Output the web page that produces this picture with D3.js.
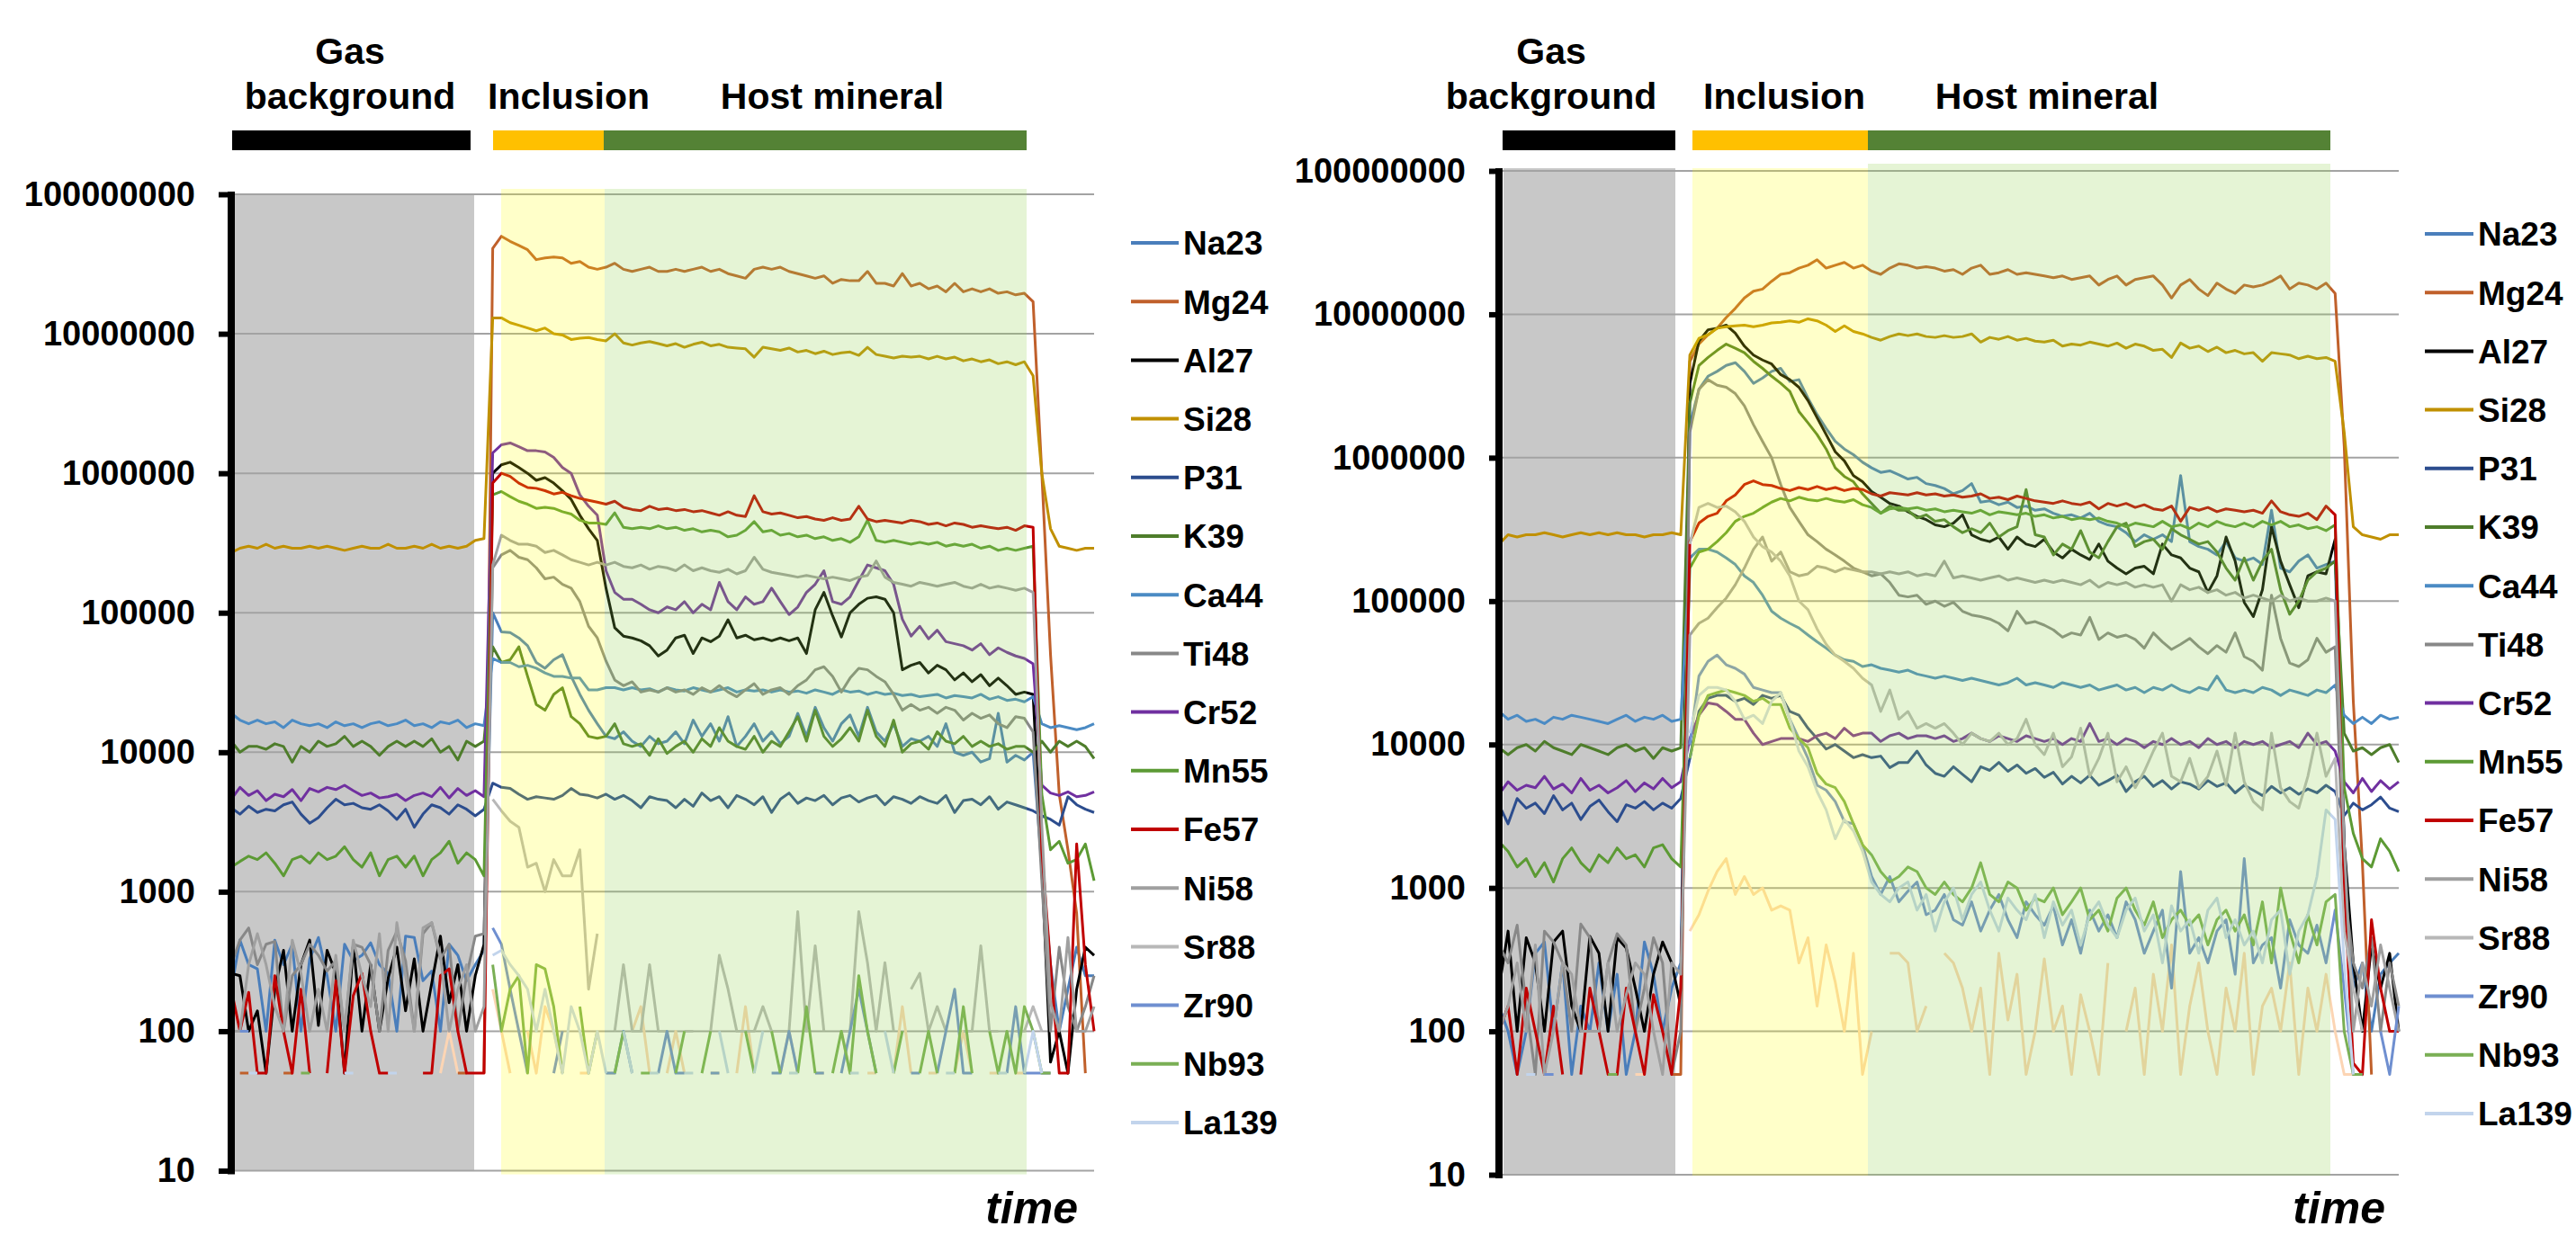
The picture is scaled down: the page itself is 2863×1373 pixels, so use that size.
<!DOCTYPE html>
<html>
<head>
<meta charset="utf-8">
<script src="https://cdn.jsdelivr.net/npm/d3@7"></script>
<style>
  body { margin: 0; background: #fff; }
  text { font-family: "Liberation Sans", Arial, sans-serif; font-weight: bold; }
</style>
</head>
<body>
<script>
// LA-ICP-MS time-resolved signals (cps), 100 sweeps per panel.
// null = no signal (zero counts, not drawn on the log axis)

const elements = ["Na23", "Mg24", "Al27", "Si28", "P31", "K39", "Ca44", "Ti48",
                  "Cr52", "Mn55", "Fe57", "Ni58", "Sr88", "Zr90", "Nb93", "La139"];

// ---------- left panel ----------
const lNa23 = [
200,450,300,280,100,450,300,420,100,330,
470,250,100,420,320,350,430,300,260,100,
480,470,230,270,100,420,350,230,300,380,
1e5,7.3e4,7.2e4,6.6e4,5.8e4,4.4e4,4e4,4.6e4,5e4,3.5e4,
2.6e4,2e4,1.6e4,1.3e4,1.25e4,1.4e4,1.2e4,1.1e4,1.3e4,1.15e4,
1.2e4,1.4e4,1.15e4,1.7e4,1.3e4,1.6e4,1.2e4,1.8e4,1.1e4,1.3e4,
1.6e4,1.2e4,1.4e4,1.15e4,1.3e4,1.9e4,1.3e4,2.1e4,1.5e4,1.2e4,
1.6e4,1.85e4,1.3e4,2.1e4,1.4e4,1.2e4,1.6e4,1.1e4,1.25e4,1.2e4,
1.3e4,1.1e4,1.6e4,1e4,9.5e3,1e4,8.5e3,9e3,1.9e4,8.5e3,
9.5e3,8.8e3,1e4,1.5e3,300,100,200,400,250,250];
const lMg24 = [
null,50,50,null,null,null,50,50,null,null,
null,null,null,null,null,null,null,null,null,null,
null,null,null,null,null,null,50,50,null,50,
4.1e7,5e7,4.6e7,4.3e7,4e7,3.4e7,3.5e7,3.55e7,3.5e7,3.2e7,
3.3e7,3e7,2.9e7,3e7,3.2e7,2.9e7,2.8e7,2.9e7,3e7,2.8e7,
2.8e7,2.9e7,2.8e7,2.9e7,3e7,2.8e7,2.9e7,2.7e7,2.6e7,2.5e7,
2.9e7,3e7,2.9e7,3e7,2.8e7,2.7e7,2.6e7,2.5e7,2.6e7,2.3e7,
2.45e7,2.4e7,2.4e7,2.8e7,2.3e7,2.3e7,2.2e7,2.7e7,2.2e7,2.3e7,
2.1e7,2.2e7,2e7,2.3e7,2e7,2.1e7,2e7,2.1e7,1.95e7,2e7,
1.9e7,1.95e7,1.7e7,1e6,5e4,5e3,2e3,700,50,null];
const lAl27 = [
260,250,100,140,50,200,380,100,300,450,
110,380,260,50,420,100,300,100,240,400,
140,330,100,220,480,160,300,100,250,420,
1e6,1.15e6,1.2e6,1.1e6,1e6,8.9e5,9.3e5,8.5e5,7.5e5,6.5e5,
5e5,4e5,3.3e5,1.5e5,7.8e4,6.8e4,6.6e4,6.3e4,5.8e4,4.9e4,
5.4e4,6.6e4,6.9e4,5.1e4,6.6e4,6.2e4,6.8e4,8.9e4,6.6e4,6.9e4,
6.4e4,6.6e4,6.3e4,6.6e4,6.3e4,6.6e4,5.1e4,1.05e5,1.4e5,9.5e4,
6.7e4,1e5,1.15e5,1.27e5,1.3e5,1.25e5,1e5,3.9e4,4.2e4,4.4e4,
3.7e4,4.2e4,3.9e4,3.3e4,3.7e4,3.2e4,3.6e4,3e4,3.4e4,3e4,
2.6e4,2.7e4,2.6e4,1.5e3,60,100,50,200,400,350];
const lSi28 = [
2.7e5,2.9e5,3e5,2.9e5,3.1e5,2.9e5,3e5,2.9e5,2.9e5,3e5,
2.9e5,3e5,2.9e5,2.8e5,2.9e5,3e5,2.9e5,2.9e5,3.1e5,2.9e5,
2.9e5,3e5,2.9e5,3.1e5,2.9e5,3e5,2.9e5,3e5,3.3e5,3.4e5,
1.3e7,1.3e7,1.2e7,1.15e7,1.1e7,1.05e7,1.1e7,1e7,9.8e6,9.1e6,
9.3e6,9.4e6,9.1e6,8.9e6,1e7,8.6e6,8.3e6,8.6e6,8.8e6,8.5e6,
8.2e6,8.5e6,8e6,8.4e6,8.7e6,8.2e6,8.4e6,8e6,7.9e6,7.8e6,
6.8e6,8e6,7.8e6,7.6e6,7.9e6,7.4e6,7.6e6,7.2e6,7.5e6,7.1e6,
7.3e6,7.4e6,7e6,8e6,7.1e6,6.9e6,6.7e6,6.9e6,6.8e6,6.9e6,
6.6e6,6.9e6,6.6e6,6.8e6,6.4e6,6.6e6,6.3e6,6.5e6,6.1e6,6.3e6,
6e6,6.3e6,5e6,1e6,4e5,3e5,2.9e5,2.8e5,2.9e5,2.9e5];
const lP31 = [
4e3,3.6e3,4.1e3,3.7e3,3.9e3,3.8e3,4.2e3,4.4e3,3.6e3,3.1e3,
3.4e3,4e3,4.6e3,4.2e3,4.3e3,4e3,3.9e3,4.2e3,3.8e3,3.3e3,
3.9e3,2.9e3,3.6e3,4.2e3,4e3,3.6e3,4.2e3,3.9e3,3.5e3,3.9e3,
6e3,5.6e3,5.5e3,5e3,4.6e3,4.8e3,4.7e3,4.6e3,4.9e3,5.5e3,
5e3,4.9e3,4.7e3,5e3,4.6e3,4.9e3,4.5e3,4e3,4.8e3,4.6e3,
4.5e3,4e3,4.6e3,4.1e3,5.1e3,4.5e3,4.8e3,4e3,4.9e3,4.6e3,
4.2e3,4.8e3,3.7e3,4.6e3,5.1e3,4.3e3,4.7e3,4.5e3,4.9e3,4.2e3,
4.7e3,4.9e3,4.4e3,4.7e3,4.9e3,4.2e3,4.8e3,4.6e3,4.3e3,4.8e3,
4.5e3,4.3e3,4.9e3,3.7e3,4.5e3,4.6e3,4.2e3,4.8e3,3.9e3,4.4e3,
4.2e3,4e3,3.8e3,3.5e3,3.3e3,3e3,4.8e3,4.2e3,3.9e3,3.7e3];
const lK39 = [
1.2e4,1e4,1.1e4,1.1e4,1.05e4,1.15e4,1.1e4,8.5e3,1.1e4,1e4,
1.2e4,1.1e4,1.15e4,1.3e4,1.1e4,1.2e4,1.1e4,9.5e3,1.1e4,1.2e4,
1.1e4,1.2e4,1.1e4,1.25e4,1e4,1.1e4,8.8e3,1.2e4,1.1e4,1.2e4,
5.7e4,4.4e4,4.6e4,5.7e4,3.5e4,2.2e4,2e4,2.6e4,2.9e4,1.8e4,
1.6e4,1.3e4,1.26e4,1.3e4,1.6e4,1.15e4,1.1e4,1.15e4,9.5e3,1.25e4,
9.8e3,1.1e4,1.2e4,1e4,1.25e4,1.1e4,1.5e4,1.2e4,1.1e4,1.05e4,
1.3e4,1e4,1.2e4,1.1e4,1.4e4,1.8e4,1.2e4,2e4,1.3e4,1.1e4,
1.25e4,1.5e4,1.2e4,2e4,1.3e4,1.1e4,1.7e4,1e4,1.15e4,1.2e4,
1.05e4,1.4e4,1.2e4,1.15e4,1.3e4,1.1e4,1.2e4,1.1e4,1.15e4,1.05e4,
1.1e4,1.1e4,1e4,1.2e4,1e4,1.2e4,1.1e4,1.2e4,1.1e4,9e3];
const lCa44 = [
1.9e4,1.7e4,1.6e4,1.7e4,1.6e4,1.65e4,1.5e4,1.7e4,1.6e4,1.55e4,
1.6e4,1.5e4,1.65e4,1.55e4,1.6e4,1.5e4,1.6e4,1.65e4,1.55e4,1.6e4,
1.7e4,1.55e4,1.6e4,1.5e4,1.65e4,1.6e4,1.7e4,1.5e4,1.6e4,1.55e4,
4.7e4,4.4e4,4.4e4,4.1e4,4.2e4,4e4,3.7e4,3.5e4,3.5e4,3.4e4,
3.4e4,2.8e4,2.8e4,2.9e4,2.9e4,2.8e4,2.9e4,2.8e4,2.85e4,2.7e4,
2.9e4,2.8e4,2.75e4,2.9e4,2.8e4,2.7e4,2.8e4,2.9e4,2.7e4,2.8e4,
2.75e4,2.8e4,2.7e4,2.8e4,2.7e4,2.75e4,2.65e4,2.8e4,2.7e4,2.6e4,
2.8e4,2.7e4,2.75e4,2.6e4,2.7e4,2.6e4,2.65e4,2.55e4,2.6e4,2.5e4,
2.55e4,2.6e4,2.45e4,2.55e4,2.5e4,2.45e4,2.6e4,2.4e4,2.5e4,2.35e4,
2.4e4,2.3e4,2.5e4,1.6e4,1.5e4,1.55e4,1.5e4,1.45e4,1.5e4,1.6e4];
const lTi48 = [
300,450,550,300,420,440,100,250,300,420,
350,270,320,100,420,400,300,100,380,520,
320,100,500,600,330,420,100,250,480,500,
2.1e5,2.6e5,2.8e5,2.5e5,2.4e5,2.1e5,1.75e5,1.8e5,1.6e5,1.5e5,
1.2e5,8e4,6.6e4,4.5e4,3.3e4,3e4,3.2e4,2.7e4,2.8e4,2.7e4,
2.9e4,2.7e4,2.8e4,2.6e4,2.9e4,2.7e4,3e4,2.7e4,2.5e4,2.8e4,
3.1e4,2.6e4,2.8e4,2.9e4,2.6e4,3e4,3.3e4,3.9e4,4.1e4,3.5e4,
2.7e4,3.4e4,4e4,3.9e4,3.5e4,3.2e4,2.6e4,2e4,2.2e4,2e4,
2.1e4,1.9e4,2.1e4,2e4,1.7e4,1.9e4,1.75e4,1.85e4,1.6e4,1.5e4,
1.8e4,1.75e4,1.4e4,1.2e3,100,400,150,100,150,250];
const lCr52 = [
4.6e3,5.6e3,4.9e3,5.3e3,4.5e3,5e3,4.8e3,5.4e3,4.5e3,5.5e3,
5.2e3,5.6e3,5.4e3,5.8e3,5.3e3,4.9e3,5.1e3,4.7e3,4.8e3,5e3,
4.5e3,4.9e3,5.1e3,4.8e3,5.6e3,4.7e3,5.5e3,4.9e3,5.3e3,4.8e3,
1.4e6,1.6e6,1.65e6,1.55e6,1.45e6,1.45e6,1.42e6,1.3e6,1.1e6,1e6,
7e5,5.8e5,5e5,2e5,1.4e5,1.25e5,1.25e5,1.15e5,1.05e5,1e5,
1.1e5,1.05e5,1.2e5,1e5,1.15e5,1.05e5,1.65e5,1.2e5,1.05e5,1.3e5,
1.15e5,1.2e5,1.5e5,1.2e5,9.7e4,1.1e5,1.4e5,1.6e5,2e5,1.2e5,
1.15e5,1.3e5,1.7e5,2.2e5,2.1e5,2e5,1.6e5,9e4,6.8e4,8e4,
6.5e4,7.5e4,6.2e4,6e4,5.8e4,5.4e4,6e4,5e4,5.6e4,5.2e4,
4.9e4,4.7e4,4.3e4,5.8e3,5.1e3,4.9e3,5.2e3,4.8e3,4.9e3,5.2e3];
const lMn55 = [
1.5e3,1.65e3,1.8e3,1.7e3,1.9e3,1.6e3,1.3e3,1.7e3,1.8e3,1.6e3,
1.9e3,1.7e3,1.8e3,2.1e3,1.7e3,1.5e3,1.9e3,1.3e3,1.7e3,1.8e3,
1.5e3,1.8e3,1.3e3,1.7e3,1.9e3,2.3e3,1.6e3,1.9e3,1.7e3,1.3e3,
7e5,7.4e5,6.8e5,6.3e5,6e5,5.6e5,5.7e5,5.6e5,5.3e5,5.1e5,
4.6e5,4.4e5,4.4e5,4.3e5,5.2e5,4.1e5,4e5,4.1e5,4e5,4.2e5,
4e5,4.1e5,3.9e5,4e5,3.8e5,3.9e5,3.8e5,3.5e5,3.6e5,3.9e5,
4.5e5,3.8e5,3.9e5,3.6e5,3.7e5,3.5e5,3.6e5,3.4e5,3.5e5,3.3e5,
3.4e5,3.2e5,3.5e5,4.6e5,3.3e5,3.2e5,3.3e5,3.2e5,3.1e5,3.2e5,
3.1e5,3.2e5,3e5,3.1e5,3e5,3.1e5,2.9e5,3e5,2.8e5,2.9e5,
2.8e5,2.9e5,3e5,5e3,2e3,2.3e3,1.6e3,1.7e3,2.2e3,1.2e3];
const lFe57 = [
200,100,190,50,50,250,100,50,200,50,
null,50,230,50,180,260,100,50,50,null,
null,null,50,50,250,280,100,50,50,50,
8.5e5,1e6,9.5e5,8.5e5,7.9e5,7.8e5,7.5e5,7.1e5,7.3e5,6.9e5,
6.6e5,6.4e5,6.2e5,6e5,6.3e5,5.7e5,5.5e5,5.4e5,5.8e5,5.5e5,
5.6e5,5.4e5,5.5e5,5.3e5,5.4e5,5.2e5,5e5,5.3e5,5e5,4.9e5,
6.9e5,5.3e5,5.1e5,5.2e5,5e5,4.8e5,4.9e5,4.7e5,4.6e5,4.8e5,
4.6e5,4.7e5,5.8e5,4.7e5,4.5e5,4.6e5,4.5e5,4.4e5,4.6e5,4.5e5,
4.3e5,4.4e5,4.2e5,4.4e5,4.3e5,4.1e5,4.2e5,4.1e5,4e5,4.1e5,
3.9e5,4.2e5,4.1e5,2e3,300,50,50,2.2e3,300,100];
const lNi58 = [
100,100,300,500,300,150,100,450,260,100,
200,100,350,100,450,250,150,500,100,600,
250,100,550,600,350,100,200,300,100,150,
2.2e5,3.6e5,3.3e5,3.1e5,3.1e5,3e5,2.7e5,2.8e5,2.6e5,2.4e5,
2.3e5,2.2e5,2.3e5,2.2e5,2.3e5,2.15e5,2.1e5,2.2e5,2.05e5,2.15e5,
2.1e5,2e5,2.2e5,2e5,2.1e5,2e5,1.95e5,2.05e5,1.9e5,2e5,
2.5e5,2.05e5,1.95e5,1.9e5,1.85e5,1.8e5,1.85e5,1.8e5,1.75e5,1.8e5,
1.75e5,1.7e5,1.8e5,1.85e5,2.35e5,1.8e5,1.65e5,1.6e5,1.55e5,1.65e5,
1.6e5,1.55e5,1.6e5,1.65e5,1.55e5,1.5e5,1.6e5,1.5e5,1.55e5,1.5e5,
1.45e5,1.5e5,1.4e5,3e3,160,100,470,100,100,150];
const lSr88 = [
null,null,null,null,null,null,null,null,null,null,
null,null,null,null,null,null,null,null,null,null,
null,null,null,null,null,null,null,null,null,null,
4.6e3,3.8e3,3.2e3,2.9e3,1.5e3,1.6e3,1e3,1.7e3,1.3e3,1.3e3,
2e3,200,500,null,100,300,100,100,300,100,
100,null,100,100,null,100,350,200,100,100,
100,150,100,100,100,720,100,410,100,null,
100,100,720,310,100,310,100,null,200,260,
100,150,100,null,100,100,410,100,100,null,
100,100,150,100,null,100,null,50,null,null];
const lZr90 = [
null,100,100,null,null,null,null,null,null,null,
null,null,null,null,null,null,null,null,null,null,
null,null,null,null,null,null,null,null,null,null,
550,420,200,100,50,null,null,50,100,null,
null,null,null,50,50,100,50,null,null,50,
100,50,50,null,null,50,50,null,null,null,
null,null,50,50,100,50,null,50,50,null,
50,100,200,100,50,null,null,null,50,50,
null,50,100,200,50,50,null,null,null,50,
150,50,50,50,50,null,null,null,null,null];
const lNb93 = [
null,null,null,null,null,null,null,null,50,50,
null,null,null,null,null,null,null,null,null,null,
null,null,null,null,null,null,null,null,null,null,
300,100,200,250,50,300,280,150,50,null,
150,50,100,null,50,100,null,50,50,null,
null,50,100,null,50,100,null,50,null,100,
50,null,100,50,null,50,150,50,null,50,
100,50,250,100,50,null,50,100,null,50,
100,50,null,50,150,50,null,100,50,100,
50,150,100,50,50,null,null,null,null,null];
const lLa139 = [
null,null,50,50,null,null,null,null,null,null,
null,null,null,50,50,null,null,null,50,50,
null,null,null,null,null,null,null,null,null,null,
350,380,300,250,200,100,200,100,50,150,
100,50,100,50,null,100,50,null,50,50,
null,null,50,50,null,null,100,50,null,null,
50,100,null,null,50,50,null,null,50,null,
null,50,50,null,null,100,50,null,null,50,
null,null,50,50,null,null,50,null,50,50,
null,50,100,50,null,null,null,null,null,null];
// unlabelled pale-orange trace (not in the legend)
const lOther = [
null,null,null,null,null,null,null,null,null,null,
null,null,null,null,null,null,null,null,null,null,
null,null,null,null,50,100,50,null,null,null,
200,100,50,null,100,50,150,100,50,null,
50,50,null,50,50,null,100,150,50,null,
50,100,50,null,null,50,50,null,50,150,
50,null,null,50,100,50,null,50,50,null,
100,50,null,50,50,null,50,150,50,null,
50,50,null,50,100,50,null,50,50,null,
50,50,null,50,50,null,null,null,null,null];

// ---------- right panel ----------
const rNa23 = [
150,100,50,100,350,420,100,300,50,150,
100,300,100,250,50,100,420,250,100,200,
300,1.7e6,3e6,3.7e6,4e6,4.4e6,4.6e6,4e6,3.3e6,3.6e6,
4e6,4.2e6,3.4e6,3.5e6,2.6e6,2e6,1.6e6,1.3e6,1.15e6,1.05e6,
9.3e5,8.5e5,7.9e5,8.1e5,7.6e5,7.1e5,7.3e5,6.6e5,6.4e5,6.1e5,
5.6e5,5.9e5,6.6e5,4.9e5,5e5,4.7e5,4.9e5,4.5e5,4.6e5,4.3e5,
4.4e5,4.1e5,3.9e5,4e5,3.8e5,4.1e5,3.6e5,3.4e5,3.3e5,3e5,
2.6e5,2.9e5,2.7e5,2.9e5,2.6e5,7.5e5,2.6e5,2.4e5,2.3e5,2.1e5,
2.6e5,2e5,1.9e5,2e5,1.8e5,4.3e5,1.7e5,1.6e5,1.9e5,2.1e5,
1.7e5,1.8e5,1.9e5,2e3,200,300,100,250,300,350];
const rMg24 = [
50,null,null,null,null,null,null,null,null,null,
null,null,null,null,null,null,null,null,null,50,
50,4.7e6,6.2e6,7.2e6,8e6,9.5e6,1.1e7,1.3e7,1.45e7,1.5e7,
1.7e7,1.9e7,1.95e7,2.1e7,2.2e7,2.4e7,2.1e7,2.2e7,2.3e7,2.1e7,
2.2e7,2e7,1.9e7,2.1e7,2.25e7,2.2e7,2.1e7,2.15e7,2.1e7,2e7,
2.05e7,1.9e7,2.1e7,2.2e7,1.9e7,1.95e7,2.05e7,1.9e7,1.95e7,1.9e7,
1.85e7,1.8e7,1.85e7,1.75e7,1.8e7,1.85e7,1.6e7,1.75e7,1.85e7,1.6e7,
1.75e7,1.8e7,1.85e7,1.6e7,1.3e7,1.6e7,1.75e7,1.5e7,1.35e7,1.65e7,
1.5e7,1.4e7,1.6e7,1.55e7,1.6e7,1.7e7,1.85e7,1.5e7,1.65e7,1.6e7,
1.5e7,1.65e7,1.4e7,1.2e6,2e4,1.5e3,50,null,null,null];
const rAl27 = [
200,500,100,450,300,100,420,500,150,100,
460,350,100,450,380,200,100,250,420,300,
150,3.3e6,6.5e6,7.8e6,8e6,8.4e6,7.4e6,6e6,5.2e6,4.8e6,
4.5e6,3.8e6,3.5e6,3.1e6,2.5e6,1.9e6,1.45e6,1.1e6,9.5e5,7.5e5,
6.8e5,5.8e5,5.3e5,4.8e5,4.6e5,4.2e5,3.9e5,3.7e5,3.4e5,3.3e5,
3.5e5,4e5,2.9e5,2.7e5,2.6e5,2.8e5,2.3e5,2.8e5,2.5e5,2.4e5,
2.7e5,2.2e5,2e5,2.3e5,2.1e5,1.95e5,2.5e5,1.9e5,1.7e5,1.55e5,
1.7e5,1.75e5,1.55e5,2.5e5,2.1e5,2e5,1.7e5,1.6e5,1.15e5,1.5e5,
2.8e5,1.9e5,9.8e4,7.8e4,1.2e5,3.3e5,1.9e5,1.3e5,9e4,1.5e5,
1.6e5,1.55e5,2.7e5,2e3,300,100,400,200,350,100];
const rSi28 = [
2.5e5,2.9e5,2.8e5,2.9e5,2.9e5,3e5,2.9e5,2.8e5,2.9e5,3e5,
2.9e5,3e5,2.9e5,3e5,2.9e5,2.9e5,2.8e5,2.9e5,2.9e5,3e5,
2.9e5,5.2e6,6.8e6,7.2e6,8e6,8.2e6,8.3e6,8.4e6,8.2e6,8.4e6,
8.7e6,8.8e6,9e6,8.8e6,9.3e6,9e6,8.4e6,7.6e6,8.3e6,7.6e6,
7.3e6,6.9e6,6.6e6,7e6,7.3e6,7.1e6,7.3e6,7e6,6.9e6,7.1e6,
6.9e6,7e6,7.3e6,6.4e6,6.9e6,6.7e6,7e6,6.6e6,6.8e6,6.5e6,
6.4e6,6.6e6,6e6,6.2e6,6.1e6,6.4e6,6.2e6,6e6,6.3e6,5.8e6,
6.2e6,6e6,5.6e6,5.7e6,5e6,6.3e6,5.8e6,6e6,5.5e6,5.9e6,
5.4e6,5.6e6,5.3e6,5.4e6,4.7e6,5.4e6,5.3e6,5.2e6,4.9e6,5.1e6,
4.9e6,5e6,4.7e6,1.5e6,3.3e5,2.9e5,2.8e5,2.7e5,2.9e5,2.9e5];
const rP31 = [
3.8e3,2.8e3,4.2e3,3.6e3,3.9e3,3.3e3,4.4e3,3.5e3,3.9e3,3e3,
3.7e3,4.1e3,3.4e3,2.9e3,3.8e3,3.6e3,4e3,3.5e3,3.9e3,3.6e3,
4.2e3,8e3,1.7e4,2.1e4,2.2e4,2.2e4,2e4,2.1e4,1.9e4,2.2e4,
2.1e4,2.2e4,1.7e4,1.6e4,1.3e4,1.1e4,9.3e3,1e4,9e3,8.1e3,
8.5e3,8.1e3,8.3e3,6.9e3,7.5e3,7.5e3,9e3,7.2e3,6.3e3,6e3,
7e3,6.2e3,5.5e3,7e3,6.6e3,7.5e3,6.5e3,7.2e3,6.3e3,6.8e3,
5.9e3,6.4e3,5.3e3,6e3,5.4e3,6.1e3,5.2e3,5.6e3,6.1e3,4.7e3,
5.5e3,6e3,5.1e3,5.6e3,4.9e3,5.5e3,5.3e3,4.9e3,5.6e3,5.1e3,
5.4e3,4.6e3,5.2e3,4.8e3,4.4e3,5.1e3,4.6e3,5e3,4.5e3,4.9e3,
4.6e3,5.2e3,4.7e3,3.2e3,3.9e3,3.5e3,3.8e3,4.3e3,3.6e3,3.4e3];
const rK39 = [
9.5e3,8.5e3,9.5e3,1e4,9e3,1.05e4,9.5e3,9e3,8.5e3,1e4,
9.5e3,9e3,8.5e3,9.5e3,1e4,9e3,9.5e3,8e3,9.5e3,9e3,
9.5e3,2.4e6,4.4e6,5e6,5.6e6,6.2e6,5.8e6,5.4e6,4.7e6,4.2e6,
3.7e6,3.3e6,2.9e6,2.1e6,1.75e6,1.45e6,1.15e6,8.5e5,7.4e5,6.8e5,
5.6e5,4.8e5,4.1e5,4.6e5,4.3e5,4.3e5,3.8e5,4e5,3.6e5,3.7e5,
3.3e5,3e5,3.2e5,3e5,3.5e5,2.8e5,3.1e5,3.3e5,6e5,2.9e5,
2.8e5,2.1e5,2.5e5,2.3e5,3.1e5,2.2e5,2e5,2.6e5,3.3e5,3.5e5,
2.4e5,2.6e5,2.7e5,2.3e5,3.2e5,2.9e5,2.7e5,2.5e5,2.6e5,2.2e5,
1.7e5,1.4e5,2e5,1.4e5,1.9e5,2.3e5,1.2e5,8.1e4,1e5,1.4e5,
1.6e5,1.7e5,1.9e5,1.2e4,9e3,9.5e3,8.5e3,9.5e3,1e4,7.5e3];
const rCa44 = [
1.7e4,1.5e4,1.6e4,1.45e4,1.5e4,1.4e4,1.55e4,1.5e4,1.6e4,1.55e4,
1.5e4,1.45e4,1.4e4,1.5e4,1.6e4,1.45e4,1.55e4,1.5e4,1.6e4,1.45e4,
1.5e4,2e5,2.3e5,2.3e5,2.2e5,2e5,1.8e5,1.5e5,1.35e5,1.1e5,
8.5e4,7.6e4,7e4,6.5e4,5.8e4,5.2e4,4.7e4,4.2e4,3.9e4,3.8e4,
3.5e4,3.6e4,3.4e4,3.3e4,3.2e4,3.3e4,3.1e4,3e4,2.9e4,3e4,
2.9e4,2.8e4,2.9e4,2.8e4,2.7e4,2.6e4,2.7e4,2.9e4,2.6e4,2.7e4,
2.6e4,2.5e4,2.7e4,2.6e4,2.5e4,2.6e4,2.4e4,2.5e4,2.6e4,2.4e4,
2.5e4,2.3e4,2.5e4,2.4e4,2.6e4,2.4e4,2.3e4,2.5e4,2.4e4,3e4,
2.4e4,2.3e4,2.4e4,2.3e4,2.5e4,2.4e4,2.2e4,2.4e4,2.3e4,2.2e4,
2.4e4,2.3e4,2.6e4,1.6e4,1.4e4,1.55e4,1.4e4,1.6e4,1.5e4,1.55e4];
const rTi48 = [
400,300,550,150,50,500,420,300,100,560,
450,100,300,480,400,100,200,450,300,50,
100,1.5e6,3e6,3.5e6,3.2e6,3.1e6,2.8e6,2.3e6,1.7e6,1.3e6,
1e6,6.5e5,4.5e5,3.6e5,2.9e5,2.6e5,2.3e5,2.1e5,1.9e5,1.7e5,
1.6e5,1.5e5,1.55e5,1.35e5,1.1e5,1.07e5,1.1e5,9.5e4,1e5,9.2e4,
9.8e4,8.5e4,8e4,7.8e4,7.5e4,7e4,6.2e4,8.5e4,7e4,7.2e4,
6.8e4,6.3e4,5.6e4,6e4,5.8e4,7.7e4,5.4e4,6e4,5.6e4,5.8e4,
5.4e4,4.7e4,6e4,5.2e4,4.6e4,5e4,5.5e4,4.8e4,4.3e4,4.9e4,
4.4e4,6e4,4.1e4,3.8e4,3.3e4,1.1e5,5.5e4,3.7e4,3.5e4,3.9e4,
5.5e4,4.4e4,4.8e4,1e3,300,200,450,100,300,150];
const rCr52 = [
4.5e3,5.5e3,4.8e3,5.2e3,5e3,6e3,4.9e3,5.3e3,4.6e3,5.8e3,
4.8e3,5.2e3,4.6e3,5e3,5.6e3,4.7e3,5.4e3,4.9e3,5.8e3,5e3,
5.5e3,1.1e4,1.6e4,1.95e4,1.9e4,1.7e4,1.5e4,1.5e4,1.2e4,1e4,
1.05e4,1.1e4,1.1e4,1.1e4,1.05e4,1.15e4,1.2e4,1.1e4,1.3e4,1.15e4,
1.2e4,1.2e4,1.05e4,1.15e4,1.2e4,1.1e4,1.15e4,1.15e4,1.1e4,1.15e4,
1.05e4,1.1e4,1.2e4,1.1e4,1.05e4,1.15e4,1.1e4,1.05e4,1.15e4,1.1e4,
1.05e4,1.1e4,1e4,1.1e4,1.05e4,1.4e4,1.05e4,1.1e4,1e4,1.1e4,
1.05e4,9.5e3,1.05e4,1e4,1.1e4,1e4,1.05e4,9.5e3,1.1e4,1e4,
1.05e4,9.5e3,1.05e4,1e4,1.05e4,9.5e3,1e4,1.05e4,9.5e3,1.2e4,
1e4,1.05e4,9e3,5.5e3,4.6e3,5.8e3,4.7e3,5.6e3,4.9e3,5.5e3];
const rMn55 = [
2.1e3,1.8e3,1.4e3,1.6e3,1.2e3,1.5e3,1.1e3,1.6e3,1.9e3,1.5e3,
1.3e3,1.7e3,1.5e3,1.9e3,1.6e3,1.7e3,1.4e3,1.9e3,2e3,1.6e3,
1.4e3,1.7e5,2.2e5,2.3e5,2.6e5,3e5,3.6e5,3.9e5,4.1e5,4.5e5,
4.9e5,5.2e5,5e5,5.3e5,5.1e5,5e5,5.2e5,5e5,4.9e5,5.1e5,
4.7e5,4.5e5,4.1e5,4.4e5,4.5e5,4.4e5,4.5e5,4.3e5,4.4e5,4.2e5,
4.3e5,4.2e5,4.1e5,4.3e5,4e5,4.2e5,4.1e5,4e5,4.1e5,3.9e5,
4e5,3.8e5,3.9e5,3.7e5,3.8e5,3.7e5,3.8e5,3.6e5,3.5e5,3.3e5,
3.5e5,3.4e5,3.3e5,3.6e5,3.3e5,3.4e5,3.2e5,3.5e5,3.3e5,3.6e5,
3.4e5,3.3e5,3.5e5,3.3e5,3.6e5,3.4e5,3.6e5,3.3e5,3.4e5,3.2e5,
3.3e5,3.1e5,3.4e5,5e3,2.4e3,1.6e3,1.4e3,2.2e3,1.8e3,1.3e3];
const rFe57 = [
100,150,50,200,100,50,150,50,null,50,
200,100,50,50,200,100,50,180,100,50,
200,2.6e5,3.5e5,3.9e5,4.1e5,5e5,5.5e5,6.5e5,6.9e5,6.5e5,
6.4e5,6.1e5,5.9e5,6.2e5,6e5,6.3e5,6e5,6.2e5,5.9e5,6.1e5,
6e5,5.6e5,5.4e5,5.7e5,5.6e5,5.5e5,5.7e5,5.5e5,5.6e5,5.4e5,
5.5e5,5.3e5,5.4e5,5.6e5,5.2e5,5.3e5,5.1e5,5.4e5,5.2e5,5e5,
4.9e5,4.8e5,5e5,4.8e5,4.7e5,4.9e5,4.4e5,4.8e5,4.6e5,4.8e5,
4.5e5,4.7e5,4.4e5,4.3e5,4.6e5,3.6e5,4.5e5,4.3e5,4.5e5,4.2e5,
4.4e5,4.3e5,4.2e5,4.3e5,4.1e5,5e5,4.2e5,4e5,3.9e5,4.1e5,
3.7e5,4.6e5,4e5,1e3,60,50,600,200,100,100];
const rNi58 = [
100,150,300,100,400,50,100,300,250,100,
100,100,300,100,180,300,250,100,50,300,
250,5.8e4,7e4,7.6e4,9e4,1.05e5,1.3e5,1.7e5,2.3e5,2.8e5,
1.9e5,2.2e5,1.6e5,1.5e5,1.55e5,1.75e5,1.7e5,1.6e5,1.7e5,1.65e5,
1.6e5,1.6e5,1.55e5,1.6e5,1.55e5,1.6e5,1.5e5,1.55e5,1.5e5,1.9e5,
1.45e5,1.5e5,1.45e5,1.4e5,1.45e5,1.5e5,1.4e5,1.45e5,1.4e5,1.35e5,
1.4e5,1.35e5,1.4e5,1.35e5,1.3e5,1.4e5,1.25e5,1.35e5,1.3e5,1.35e5,
1.25e5,1.3e5,1.25e5,1.3e5,1e5,1.3e5,1.2e5,1.25e5,1.15e5,1.2e5,
1.1e5,1.15e5,1.05e5,1.1e5,1.05e5,1e5,1.1e5,1e5,1.05e5,1e5,
1e5,1.05e5,1e5,2e3,100,300,150,400,200,100];
const rSr88 = [
null,null,null,null,null,null,null,null,null,null,
null,null,null,null,null,null,null,null,null,null,
null,2.5e5,4.5e5,4.8e5,4.5e5,4.6e5,4.2e5,3.6e5,2.8e5,2.4e5,
2.2e5,1.9e5,1.5e5,1e5,8.7e4,6.4e4,5e4,4.2e4,3.8e4,3.4e4,
2.9e4,2.6e4,1.7e4,2.4e4,1.5e4,1.7e4,1.3e4,1.4e4,1.3e4,1.4e4,
1.2e4,1e4,1.2e4,1.1e4,1.05e4,1.2e4,1e4,1.1e4,1.5e4,1e4,
8.5e3,1.2e4,7e3,8.2e3,1.3e4,6e3,8e3,1.2e4,5.5e3,7e3,
5e3,6.5e3,9e3,1.2e4,6e3,5.5e3,8e3,5e3,6e3,9e3,
5.2e3,1.2e4,5.5e3,4e3,3.5e3,1.2e4,5e3,4e3,3.6e3,6e3,
1.2e4,6e3,8e3,500,200,100,null,100,null,null];
const rZr90 = [
null,null,null,null,null,50,50,null,null,null,
null,null,null,null,null,null,null,null,null,null,
null,1e4,3e4,3.8e4,4.2e4,3.6e4,3.4e4,3.1e4,2.5e4,2.4e4,
2.3e4,2.3e4,1.5e4,1.1e4,8e3,5.2e3,4.8e3,4e3,2.9e3,2.8e3,
2e3,1.2e3,900,1.2e3,800,950,1.1e3,650,700,900,
600,550,800,500,700,900,600,450,800,650,
550,750,400,600,350,700,500,650,450,800,
600,350,500,700,200,1.3e3,350,450,300,500,
600,250,1.6e3,300,400,450,200,600,400,350,
550,300,700,200,50,50,null,100,50,150];
const rNb93 = [
null,null,null,null,null,null,null,null,null,null,
null,null,50,50,null,null,null,null,null,null,
null,8e3,1.6e4,2.2e4,2.3e4,2.4e4,2.3e4,2.2e4,2e4,2.1e4,
1.9e4,1.9e4,1.3e4,1.1e4,9.5e3,6.3e3,5.3e3,5e3,4e3,2.8e3,
2e3,1.7e3,1.3e3,1.1e3,1.2e3,1.4e3,1.3e3,1e3,900,1.1e3,
900,800,1e3,1.5e3,900,800,1.1e3,1e3,700,850,
800,1e3,650,800,1e3,600,700,500,850,1e3,
700,550,800,450,600,700,550,650,400,600,
700,500,650,400,800,300,1e3,500,300,650,
400,800,900,100,50,50,null,null,null,null];
const rLa139 = [
null,null,null,50,50,null,null,null,null,null,
null,null,null,null,null,null,null,null,null,null,
null,1.2e4,2.2e4,2.5e4,2.5e4,2.4e4,2e4,1.5e4,1.6e4,1.4e4,
2e4,2.3e4,1.5e4,9e3,7e3,4.7e3,3.5e3,2.2e3,3e3,2.5e3,
1.8e3,1.1e3,900,800,1e3,1.1e3,700,900,500,800,
1e3,600,900,1.1e3,700,500,850,700,600,900,
450,800,550,700,400,650,800,550,450,700,
850,500,650,300,750,500,600,350,700,850,
450,600,400,500,300,600,700,250,500,650,
1.2e3,3.5e3,3e3,300,50,null,null,null,null,null];
const rOther = [
null,null,null,null,null,null,null,null,null,null,
null,null,null,null,null,50,50,null,null,null,
null,500,650,950,1.3e3,1.6e3,900,1.2e3,900,1e3,
700,750,700,300,450,150,400,220,100,350,
50,100,null,350,350,300,100,150,null,350,
300,200,100,200,50,350,120,250,50,100,
320,100,150,50,180,100,50,300,null,100,
200,50,250,100,400,50,150,300,100,50,
200,100,350,50,150,200,100,300,50,200,
100,250,100,50,50,null,null,null,null,null];

const decades = [10, 100, 1e3, 1e4, 1e5, 1e6, 1e7, 1e8];

const lineColors = ["#4a7ebb", "#c0602b", "#000000", "#c09000", "#2c4d8e", "#4e7d2b",
                    "#4b8bc4", "#888888", "#7030a0", "#5c9a34", "#c00000", "#a0a0a0",
                    "#b8b8b8", "#6f8fd0", "#7aaf55", "#c2d4ec"];
const otherColor = "#fcd5b4";

const width = 2863, height = 1373;
const svg = d3.select("body").append("svg")
    .attr("width", width)
    .attr("height", height)
    .style("display", "block");

const panels = [
    {
        series: [lNa23, lMg24, lAl27, lSi28, lP31, lK39, lCa44, lTi48,
                 lCr52, lMn55, lFe57, lNi58, lSr88, lZr90, lNb93, lLa139],
        other: lOther,
        left: 257, right: 1216, top: 216, bottom: 1301.5, tick: 14,
        gas: [257, 527, 216, 1301.5],
        incl: [557, 672, 210, 1305.6],
        host: [672, 1141, 210, 1305.6],
        bars: [[258, 523, "#000000"], [548, 671, "#ffc000"], [671, 1141, "#548235"]],
        heads: {gas: 389, incl: 632, host: 925},
        legend: {x1: 1257, x2: 1310, tx: 1315, y0: 270},
        timeX: 1198
    },
    {
        series: [rNa23, rMg24, rAl27, rSi28, rP31, rK39, rCa44, rTi48,
                 rCr52, rMn55, rFe57, rNi58, rSr88, rZr90, rNb93, rLa139],
        other: rOther,
        left: 1666, right: 2666, top: 190, bottom: 1306, tick: 11,
        gas: [1671, 1862, 187, 1307],
        incl: [1881, 2076, 187, 1307],
        host: [2076, 2590, 182, 1307],
        bars: [[1670, 1862, "#000000"], [1881, 2076, "#ffc000"], [2076, 2590, "#548235"]],
        heads: {gas: 1724, incl: 1983, host: 2275},
        // pulled in a little so the longest label stays inside the page
        legend: {x1: 2695, x2: 2749, tx: 2754, y0: 260},
        timeX: 2651
    }
];

panels.forEach(p => p.series.forEach((s, i) => {
    if (s.length !== 100) console.error("bad length", elements[i], s.length);
}));

function drawPanel(p) {
    const x = d3.scaleLinear().domain([0, 99]).range([p.left, p.right]);
    const y = d3.scaleLog().domain([10, 1e8]).range([p.bottom, p.top]);
    const g = svg.append("g");

    // gas background band sits under the traces
    g.append("rect")
        .attr("x", p.gas[0]).attr("y", p.gas[2])
        .attr("width", p.gas[1] - p.gas[0]).attr("height", p.gas[3] - p.gas[2])
        .attr("fill", "#c8c8c8");

    g.append("g").selectAll("line")
        .data(decades)
        .join("line")
        .attr("x1", p.left).attr("x2", p.right)
        .attr("y1", d => y(d)).attr("y2", d => y(d))
        .attr("stroke", "#a3a3a3")
        .attr("stroke-width", 2);

    const line = d3.line()
        .defined(d => d != null)
        .x((d, i) => x(i))
        .y(d => y(d));

    const traces = [{values: p.other, color: otherColor}]
        .concat(p.series.map((s, i) => ({values: s, color: lineColors[i]})));

    g.append("g").selectAll("path")
        .data(traces)
        .join("path")
        .attr("d", d => line(d.values))
        .attr("fill", "none")
        .attr("stroke", d => d.color)
        .attr("stroke-width", 3)
        .attr("stroke-linejoin", "round");

    // inclusion / host windows are translucent boxes laid over the traces
    g.append("rect")
        .attr("x", p.incl[0]).attr("y", p.incl[2])
        .attr("width", p.incl[1] - p.incl[0]).attr("height", p.incl[3] - p.incl[2])
        .attr("fill", "#ffff00").attr("fill-opacity", 0.21);
    g.append("rect")
        .attr("x", p.host[0]).attr("y", p.host[2])
        .attr("width", p.host[1] - p.host[0]).attr("height", p.host[3] - p.host[2])
        .attr("fill", "#92d050").attr("fill-opacity", 0.24);

    // y axis
    const axis = d3.axisLeft(y)
        .tickValues(decades)
        .tickFormat(d3.format("d"))
        .tickSize(p.tick)
        .tickSizeOuter(0)
        .tickPadding(26);
    const ax = g.append("g")
        .attr("transform", `translate(${p.left},0)`)
        .call(axis);
    ax.select(".domain").attr("stroke", "#000").attr("stroke-width", 8)
        .attr("d", `M0,${p.top - 3}V${p.bottom + 4}`);
    ax.selectAll(".tick line").attr("stroke", "#000").attr("stroke-width", 6);
    ax.selectAll(".tick text")
        .attr("fill", "#000")
        .style("font-family", '"Liberation Sans", Arial, sans-serif')
        .style("font-weight", "bold")
        .style("font-size", "38px");

    // phase bars and headings
    g.append("g").selectAll("rect")
        .data(p.bars)
        .join("rect")
        .attr("x", d => d[0]).attr("width", d => d[1] - d[0])
        .attr("y", 145).attr("height", 22)
        .attr("fill", d => d[2]);

    const head = g.append("g").attr("font-size", 41).attr("text-anchor", "middle");
    head.append("text").attr("x", p.heads.gas).attr("y", 71).text("Gas");
    head.append("text").attr("x", p.heads.gas).attr("y", 121).text("background");
    head.append("text").attr("x", p.heads.incl).attr("y", 121).text("Inclusion");
    head.append("text").attr("x", p.heads.host).attr("y", 121).text("Host mineral");

    // legend
    const leg = g.append("g").selectAll("g")
        .data(elements)
        .join("g")
        .attr("transform", (d, i) => `translate(0,${p.legend.y0 + i * 65.2})`);
    leg.append("line")
        .attr("x1", p.legend.x1).attr("x2", p.legend.x2)
        .attr("stroke", (d, i) => lineColors[i])
        .attr("stroke-width", 4);
    leg.append("text")
        .attr("x", p.legend.tx)
        .attr("dy", "0.36em")
        .attr("font-size", 37)
        .text(d => d);

    g.append("text")
        .attr("x", p.timeX).attr("y", 1360)
        .attr("text-anchor", "end")
        .attr("font-size", 50)
        .attr("font-style", "italic")
        .text("time");
}

panels.forEach(drawPanel);
</script>
</body>
</html>
